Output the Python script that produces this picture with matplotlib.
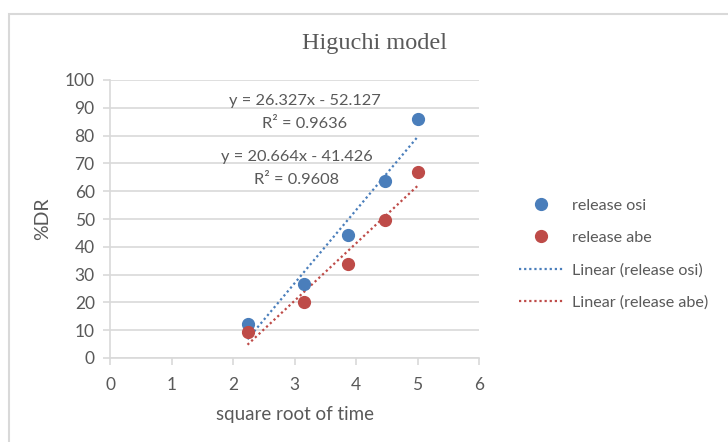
import numpy as np
import matplotlib
matplotlib.use("Agg")
import matplotlib.pyplot as plt
from matplotlib.patches import Rectangle

# data
sqrt_time = [2.236, 3.162, 3.873, 4.472, 5.0]
release_osi = [12.1, 26.6, 44.2, 63.5, 85.9]
release_abe = [9.3, 20.2, 33.9, 49.5, 67.0]
fit_osi = (26.327, -52.127)
fit_abe = (20.664, -41.426)
eq_osi = ["y = 26.327x - 52.127", "R² = 0.9636"]
eq_abe = ["y = 20.664x - 41.426", "R² = 0.9608"]

blue = '#4a7ebb'
red = '#be4b48'
grey_txt = '#595959'
grid_col = '#d9d9d9'

plt.rcParams['font.family'] = ['Lato', 'DejaVu Sans']

fig = plt.figure(figsize=(7.28, 4.42), dpi=100)
ax = fig.add_axes([110/728, 84/442, 369/728, 278/442])

ax.plot(sqrt_time, release_osi, 'o', color=blue, ms=8.5, label='release osi', zorder=3)
ax.plot(sqrt_time, release_abe, 'o', color=red, ms=8.5, label='release abe', zorder=3)

xs = np.array([min(sqrt_time), max(sqrt_time)])
ax.plot(xs, fit_osi[0]*xs + fit_osi[1], linestyle=(0, (1, 1.3)), color=blue, lw=1.6,
        label='Linear (release osi)')
ax.plot(xs, fit_abe[0]*xs + fit_abe[1], linestyle=(0, (1, 1.3)), color=red, lw=1.6,
        label='Linear (release abe)')

ax.set_xlim(0, 6)
ax.set_ylim(0, 100)
ax.set_xticks(range(0, 7))
ax.set_yticks(range(0, 101, 10))
ax.yaxis.grid(True, color=grid_col, lw=1.2)
ax.set_axisbelow(True)
for s in ['top', 'right']:
    ax.spines[s].set_visible(False)
for s in ['left', 'bottom']:
    ax.spines[s].set_color(grid_col)
    ax.spines[s].set_linewidth(1.2)
ax.tick_params(axis='both', colors=grid_col, labelcolor=grey_txt, labelsize=12.5,
               length=5, width=1.2, direction='out')
ax.tick_params(axis='x', pad=9)
ax.tick_params(axis='y', pad=6)

ax.set_xlabel('square root of time', fontsize=13.5, color=grey_txt, labelpad=9)
ax.set_ylabel('%DR', fontsize=14, color=grey_txt, labelpad=10)

ax.text(3.17, 92.4, eq_osi[0], ha='center', va='center', fontsize=11.8, color=grey_txt)
ax.text(3.17, 84.2, eq_osi[1], ha='center', va='center', fontsize=11.8, color=grey_txt)
ax.text(3.04, 72.3, eq_abe[0], ha='center', va='center', fontsize=11.8, color=grey_txt)
ax.text(3.04, 64.0, eq_abe[1], ha='center', va='center', fontsize=11.8, color=grey_txt)

fig.text(375/728, 1 - 43/442, 'Higuchi model', ha='center', va='center',
         fontsize=17.5, color=grey_txt, family=['Liberation Serif'])

leg = ax.legend(loc='center left', bbox_to_anchor=(504/728, 1 - 254/442),
                bbox_transform=fig.transFigure, frameon=False, fontsize=11.6,
                labelcolor=grey_txt, handlelength=2.8, handletextpad=0.5,
                labelspacing=1.12)

fig.patches.append(Rectangle((9/728, -0.1), 1.2, 1.1 - 14/442, transform=fig.transFigure,
                             fill=False, edgecolor=grid_col, lw=1.5))

fig.savefig('out.png', dpi=100)
